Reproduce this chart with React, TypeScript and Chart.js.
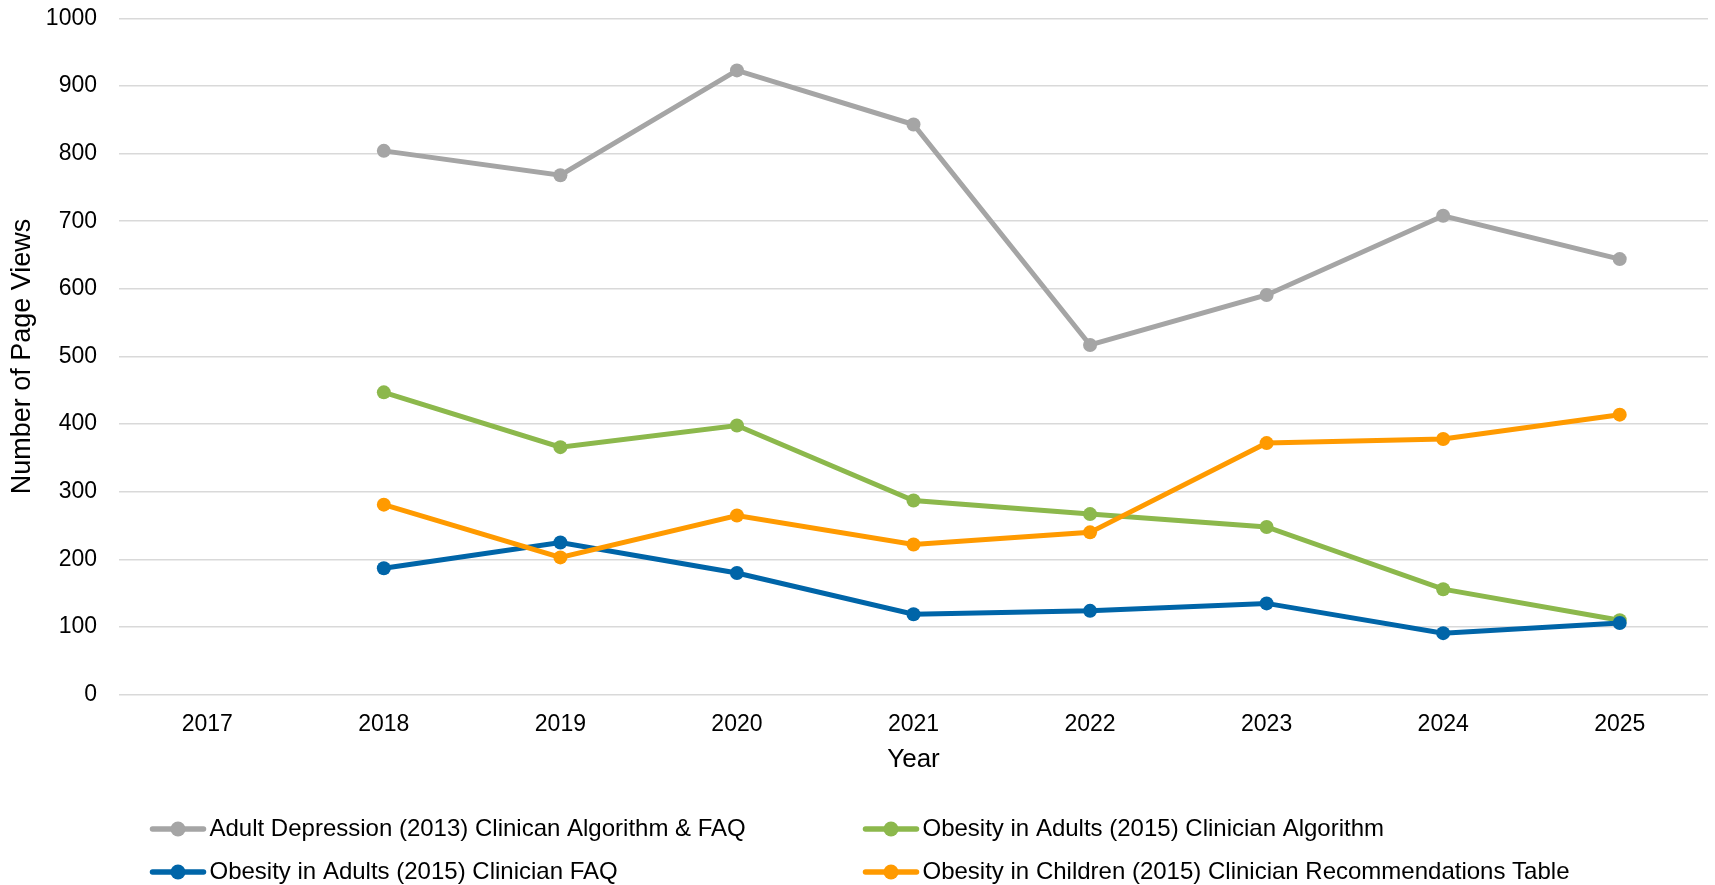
import React, { useEffect, useRef } from "react";
import { Chart, registerables } from "chart.js";

Chart.register(...registerables);

const years = ["2017", "2018", "2019", "2020", "2021", "2022", "2023", "2024", "2025"];

const adultDepression = [null, 804, 768, 923, 843, 517, 591, 708, 644];
const obesityAdultsAlgorithm = [null, 447, 366, 398, 287, 267, 248, 156, 110];
const obesityAdultsFAQ = [null, 187, 225, 180, 119, 124, 135, 91, 106];
const obesityChildrenTable = [null, 281, 203, 265, 222, 240, 372, 378, 414];

const seriesLabels = [
  "Adult Depression (2013) Clinican Algorithm & FAQ",
  "Obesity in Adults (2015) Clinician Algorithm",
  "Obesity in Adults (2015) Clinician FAQ",
  "Obesity in Children (2015) Clinician Recommendations Table",
];
const seriesColors = ["#A5A5A5", "#8CB84C", "#0065A8", "#FF9A00"];

const FONT = "'Liberation Sans', Arial, Helvetica, sans-serif";

const gridLegend = {
  id: "gridLegend",
  afterDraw(chart: any) {
    const ctx = chart.ctx as CanvasRenderingContext2D;
    const cols = [150, 863];
    const rows = [829, 872];
    const lineLen = 56;
    chart.data.datasets.forEach((ds: any, k: number) => {
      const x0 = cols[k % 2];
      const y = rows[Math.floor(k / 2)];
      ctx.save();
      ctx.strokeStyle = ds.borderColor;
      ctx.lineWidth = 5.5;
      ctx.lineCap = "round";
      ctx.beginPath();
      ctx.moveTo(x0 + 2.5, y);
      ctx.lineTo(x0 + lineLen - 2.5, y);
      ctx.stroke();
      ctx.fillStyle = ds.borderColor;
      ctx.beginPath();
      ctx.arc(x0 + lineLen / 2, y, 7.5, 0, Math.PI * 2);
      ctx.fill();
      ctx.fillStyle = "#000";
      ctx.font = `24px ${FONT}`;
      ctx.textBaseline = "middle";
      ctx.textAlign = "left";
      ctx.fillText(ds.label, x0 + lineLen + 3.5, y);
      ctx.restore();
    });
  },
};

export default function App() {
  const canvasRef = useRef<HTMLCanvasElement | null>(null);

  useEffect(() => {
    document.body.style.margin = "0";
    const canvas = canvasRef.current;
    if (!canvas) return;
    const values = [adultDepression, obesityAdultsAlgorithm, obesityAdultsFAQ, obesityChildrenTable];
    const chart = new Chart(canvas, {
      type: "line",
      data: {
        labels: years,
        datasets: values.map((v, i) => ({
          label: seriesLabels[i],
          data: v,
          borderColor: seriesColors[i],
          backgroundColor: seriesColors[i],
          pointBackgroundColor: seriesColors[i],
          pointBorderColor: seriesColors[i],
          pointBorderWidth: 0,
          pointRadius: 7,
          borderWidth: 5,
          tension: 0,
          fill: false,
          order: 4 - i,
        })),
      },
      options: {
        responsive: false,
        animation: false,
        devicePixelRatio: 1,
        layout: { padding: { top: 18.3, right: 2, bottom: 105, left: 0 } },
        plugins: {
          legend: { display: false },
          tooltip: { enabled: false },
        },
        scales: {
          x: {
            type: "category",
            offset: true,
            grid: { display: false },
            border: { display: false },
            ticks: {
              color: "#000",
              font: { family: FONT, size: 23 },
              padding: 8.5,
              maxRotation: 0,
              autoSkip: false,
            },
            title: {
              display: true,
              text: "Year",
              color: "#000",
              font: { family: FONT, size: 26 },
              padding: { top: 0, bottom: 4.7 },
            },
            afterFit(scale: any) {
              scale.height = 85.3;
              scale.paddingLeft = 0;
              scale.paddingRight = 0;
            },
          },
          y: {
            min: 0,
            max: 1000,
            ticks: {
              stepSize: 100,
              color: "#000",
              font: { family: FONT, size: 23 },
              padding: 22,
              callback: (v: any) => String(v),
            },
            grid: { color: "#D9D9D9", lineWidth: 1.5, drawTicks: false },
            border: { display: false },
            title: {
              display: true,
              text: "Number of Page Views",
              color: "#000",
              font: { family: FONT, size: 27 },
              padding: { top: 6.8, bottom: 0 },
            },
            afterFit(scale: any) {
              scale.width = 119;
              scale.paddingTop = 0;
              scale.paddingBottom = 0;
            },
          },
        },
      } as any,
      plugins: [gridLegend],
    });
    return () => chart.destroy();
  }, []);

  return (
    <div style={{ position: "fixed", left: 0, top: 0, width: 1715, height: 885, background: "#fff" }}>
      <canvas ref={canvasRef} width={1715} height={885} style={{ display: "block" }} />
    </div>
  );
}
